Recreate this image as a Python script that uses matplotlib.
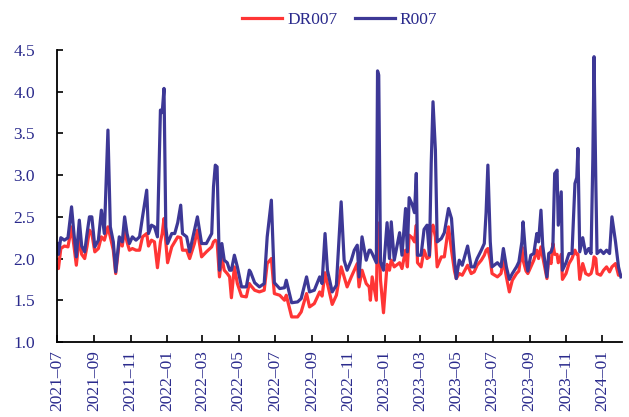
import matplotlib
matplotlib.use("Agg")
import matplotlib.pyplot as plt
import matplotlib.dates as mdates
import pandas as pd

dates = [
    "2021-07-01", "2021-07-03", "2021-07-07", "2021-07-13", "2021-07-19", "2021-07-25", "2021-07-29",
    "2021-08-02", "2021-08-07", "2021-08-11", "2021-08-16", "2021-08-20", "2021-08-24", "2021-08-28",
    "2021-09-02", "2021-09-08", "2021-09-13", "2021-09-18", "2021-09-24", "2021-09-28",
    "2021-10-03", "2021-10-07", "2021-10-13", "2021-10-18", "2021-10-22", "2021-10-26", "2021-10-30",
    "2021-11-04", "2021-11-10", "2021-11-16", "2021-11-21", "2021-11-28",
    "2021-12-01", "2021-12-06", "2021-12-11", "2021-12-16", "2021-12-21", "2021-12-24", "2021-12-27", "2021-12-30",
    "2022-01-02", "2022-01-09", "2022-01-14", "2022-01-19", "2022-01-24", "2022-01-27",
    "2022-02-03", "2022-02-08", "2022-02-16", "2022-02-21", "2022-02-28",
    "2022-03-08", "2022-03-17", "2022-03-20", "2022-03-23", "2022-03-26", "2022-03-30",
    "2022-04-03", "2022-04-07", "2022-04-12", "2022-04-16", "2022-04-19", "2022-04-24", "2022-04-29",
    "2022-05-06", "2022-05-14", "2022-05-19", "2022-05-21", "2022-05-28",
    "2022-06-05", "2022-06-13", "2022-06-18", "2022-06-25", "2022-06-30",
    "2022-07-09", "2022-07-17", "2022-07-20", "2022-07-29",
    "2022-08-08", "2022-08-14", "2022-08-23", "2022-08-28",
    "2022-09-05", "2022-09-14", "2022-09-18", "2022-09-23", "2022-09-27",
    "2022-10-05", "2022-10-12", "2022-10-20", "2022-10-25", "2022-10-30",
    "2022-11-06", "2022-11-11", "2022-11-16", "2022-11-19", "2022-11-24",
    "2022-12-01", "2022-12-06", "2022-12-08", "2022-12-11", "2022-12-18", "2022-12-20", "2022-12-22",
    "2022-12-25", "2022-12-30",
    "2023-01-05", "2023-01-09", "2023-01-12", "2023-01-17", "2023-01-26", "2023-01-30",
    "2023-02-05", "2023-02-08", "2023-02-11", "2023-02-16", "2023-02-20", "2023-02-23", "2023-02-25",
    "2023-03-03", "2023-03-08", "2023-03-13", "2023-03-17", "2023-03-20", "2023-03-23", "2023-03-27", "2023-03-30",
    "2023-04-06", "2023-04-11", "2023-04-18", "2023-04-23", "2023-04-28",
    "2023-05-01", "2023-05-06", "2023-05-11", "2023-05-20", "2023-05-26", "2023-05-31",
    "2023-06-05", "2023-06-12", "2023-06-17", "2023-06-20", "2023-06-23", "2023-06-27", "2023-06-30",
    "2023-07-09", "2023-07-15", "2023-07-19", "2023-07-24", "2023-07-29",
    "2023-08-03", "2023-08-10", "2023-08-14", "2023-08-19", "2023-08-21", "2023-08-26", "2023-08-29",
    "2023-09-03", "2023-09-08", "2023-09-13", "2023-09-16", "2023-09-20", "2023-09-23", "2023-09-30",
    "2023-10-03", "2023-10-07", "2023-10-10", "2023-10-13", "2023-10-17", "2023-10-19", "2023-10-24", "2023-10-26",
    "2023-11-01", "2023-11-06", "2023-11-11", "2023-11-16", "2023-11-19", "2023-11-21", "2023-11-24", "2023-11-29",
    "2023-12-04", "2023-12-09", "2023-12-13", "2023-12-16", "2023-12-18", "2023-12-21", "2023-12-23", "2023-12-29",
    "2024-01-03", "2024-01-08", "2024-01-13", "2024-01-17", "2024-01-23", "2024-01-28", "2024-02-01",
]

r007 = [
    2.18, 2.05, 2.25, 2.22, 2.25, 2.62, 2.30,
    2.02, 2.46, 2.15, 2.08, 2.30, 2.50, 2.50,
    2.14, 2.22, 2.58, 2.30, 3.54, 2.38,
    2.20, 1.84, 2.26, 2.20, 2.50, 2.30, 2.18,
    2.26, 2.22, 2.26, 2.50, 2.82,
    2.30, 2.40, 2.38, 2.26, 3.78, 3.75, 4.04, 2.38,
    2.18, 2.30, 2.30, 2.43, 2.64, 2.30,
    2.26, 2.08, 2.34, 2.50, 2.18,
    2.18, 2.30, 2.86, 3.12, 3.10, 1.86,
    2.18, 1.98, 1.95, 1.86, 1.86, 2.04, 1.90,
    1.66, 1.66, 1.86, 1.84, 1.71,
    1.66, 1.70, 2.26, 2.70, 1.71,
    1.64, 1.65, 1.74, 1.47,
    1.48, 1.52, 1.78, 1.60,
    1.62, 1.78, 1.70, 2.30, 1.86,
    1.60, 1.68, 2.68, 1.98, 1.86,
    1.98, 2.10, 2.16, 1.78, 2.26,
    1.98, 2.10, 2.10, 2.06, 1.95, 4.25, 4.20,
    1.96, 1.86,
    2.43, 2.00, 2.44, 1.98, 2.31, 2.04,
    2.60, 2.08, 2.73, 2.65, 2.55, 3.02, 2.04,
    2.04, 2.35, 2.40, 2.04, 3.14, 3.88, 3.30, 2.20,
    2.24, 2.31, 2.60, 2.48, 1.98,
    1.76, 1.98, 1.92, 2.15, 1.90, 1.90,
    2.00, 2.10, 2.18, 2.55, 3.12, 2.20, 1.90,
    1.95, 1.90, 2.12, 1.90, 1.75,
    1.82, 1.90, 1.96, 2.20, 2.44, 1.98, 1.85,
    2.04, 2.06, 2.30, 2.20, 2.58, 2.15, 1.78,
    2.06, 2.08, 2.15, 3.02, 3.06, 2.40, 2.80, 1.86,
    1.95, 2.06, 2.06, 2.90, 2.97, 3.32, 2.08, 2.25,
    2.06, 2.12, 2.06, 3.20, 4.42, 2.90, 2.06, 2.10,
    2.06, 2.10, 2.06, 2.50, 2.20, 1.90, 1.78,
]

dr007 = [
    1.90, 1.88, 2.12, 2.15, 2.14, 2.38, 2.15,
    1.92, 2.26, 2.05, 2.00, 2.15, 2.34, 2.30,
    2.08, 2.12, 2.26, 2.22, 2.38, 2.26,
    2.10, 1.82, 2.20, 2.15, 2.34, 2.20, 2.10,
    2.12, 2.10, 2.10, 2.26, 2.30,
    2.15, 2.22, 2.20, 1.89, 2.20, 2.30, 2.48, 2.20,
    1.95, 2.14, 2.20, 2.26, 2.25, 2.10,
    2.10, 2.00, 2.18, 2.34, 2.02,
    2.08, 2.14, 2.20, 2.22, 2.20, 1.78,
    2.02, 1.86, 1.82, 1.78, 1.53, 1.90, 1.70,
    1.55, 1.54, 1.70, 1.68, 1.62,
    1.60, 1.62, 1.94, 2.00, 1.58,
    1.56, 1.50, 1.56, 1.30,
    1.30, 1.36, 1.58, 1.42,
    1.46, 1.60, 1.55, 1.83, 1.70,
    1.45, 1.56, 1.90, 1.78, 1.66,
    1.78, 1.86, 1.94, 1.66, 1.86,
    1.70, 1.66, 1.50, 1.78, 1.50, 2.43, 2.40,
    1.74, 1.35,
    1.93, 1.86, 1.98, 1.90, 1.95, 1.88,
    2.10, 1.90, 2.28, 2.25, 2.20, 2.40, 1.95,
    1.90, 2.10, 2.00, 2.02, 2.35, 2.40, 2.26, 1.90,
    2.02, 2.02, 2.38, 2.10, 1.85,
    1.76, 1.82, 1.80, 1.92, 1.82, 1.84,
    1.92, 1.98, 2.04, 2.10, 2.12, 1.98, 1.82,
    1.78, 1.82, 1.98, 1.78, 1.60,
    1.74, 1.82, 1.85, 2.14, 1.98, 1.85, 1.82,
    1.90, 1.98, 2.10, 2.00, 2.14, 2.02, 1.76,
    2.00, 1.94, 2.18, 2.05, 2.05, 1.95, 2.05, 1.75,
    1.82, 1.94, 2.00, 2.10, 2.05, 2.05, 1.75, 1.94,
    1.82, 1.80, 1.82, 1.90, 2.02, 2.00, 1.82, 1.80,
    1.86, 1.90, 1.84, 1.90, 1.94, 1.80, 1.80,
]

tick_labels = ["2021\u201307", "2021\u201309", "2021\u201311", "2022\u201301", "2022\u201303",
               "2022\u201305", "2022\u201307", "2022\u201309", "2022\u201311", "2023\u201301",
               "2023\u201303", "2023\u201305", "2023\u201307", "2023\u201309", "2023\u201311",
               "2024\u201301"]
tick_dates = ["2021-07-01", "2021-09-01", "2021-11-01", "2022-01-01", "2022-03-01",
              "2022-05-01", "2022-07-01", "2022-09-01", "2022-11-01", "2023-01-01",
              "2023-03-01", "2023-05-01", "2023-07-01", "2023-09-01", "2023-11-01",
              "2024-01-01"]
y_ticks = [1.0, 1.5, 2.0, 2.5, 3.0, 3.5, 4.0, 4.5]

RED = "#ff3535"
BLUE = "#3d3896"
TXT = "#2a2a8c"

plt.rcParams["font.family"] = ["Liberation Serif", "DejaVu Serif"]

x = pd.to_datetime(dates)
fig = plt.figure(figsize=(6.29, 4.17), dpi=100)
ax = fig.add_axes([0.091, 0.18, 0.898, 0.70])

ax.plot(x, dr007, color=RED, lw=2.3, label="DR007", solid_joinstyle="round")
ax.plot(x, r007, color=BLUE, lw=2.3, label="R007", solid_joinstyle="round")

ax.set_ylim(1.0, 4.5)
ax.set_yticks(y_ticks)
ax.set_yticklabels([f"{v:.1f}" for v in y_ticks])
ax.set_xlim(pd.Timestamp("2021-07-01"), pd.Timestamp("2024-02-03"))
ax.set_xticks(pd.to_datetime(tick_dates))
ax.set_xticklabels(tick_labels, rotation=90)

for s in ["top", "right"]:
    ax.spines[s].set_visible(False)
for s in ["left", "bottom"]:
    ax.spines[s].set_color("black")
    ax.spines[s].set_linewidth(1.3)

ax.tick_params(axis="both", direction="in", colors="black", labelcolor=TXT, labelsize=12.5, width=1.2)
ax.tick_params(axis="y", length=4, pad=16)
ax.tick_params(axis="x", length=5, pad=6)

leg = fig.legend(loc="upper center", bbox_to_anchor=(0.54, 1.01), ncol=2, frameon=False,
                 fontsize=12.5, handlelength=2.3, columnspacing=1.0, handletextpad=0.3)
for t in leg.get_texts():
    t.set_color(TXT)

fig.savefig("out.png", dpi=100)
